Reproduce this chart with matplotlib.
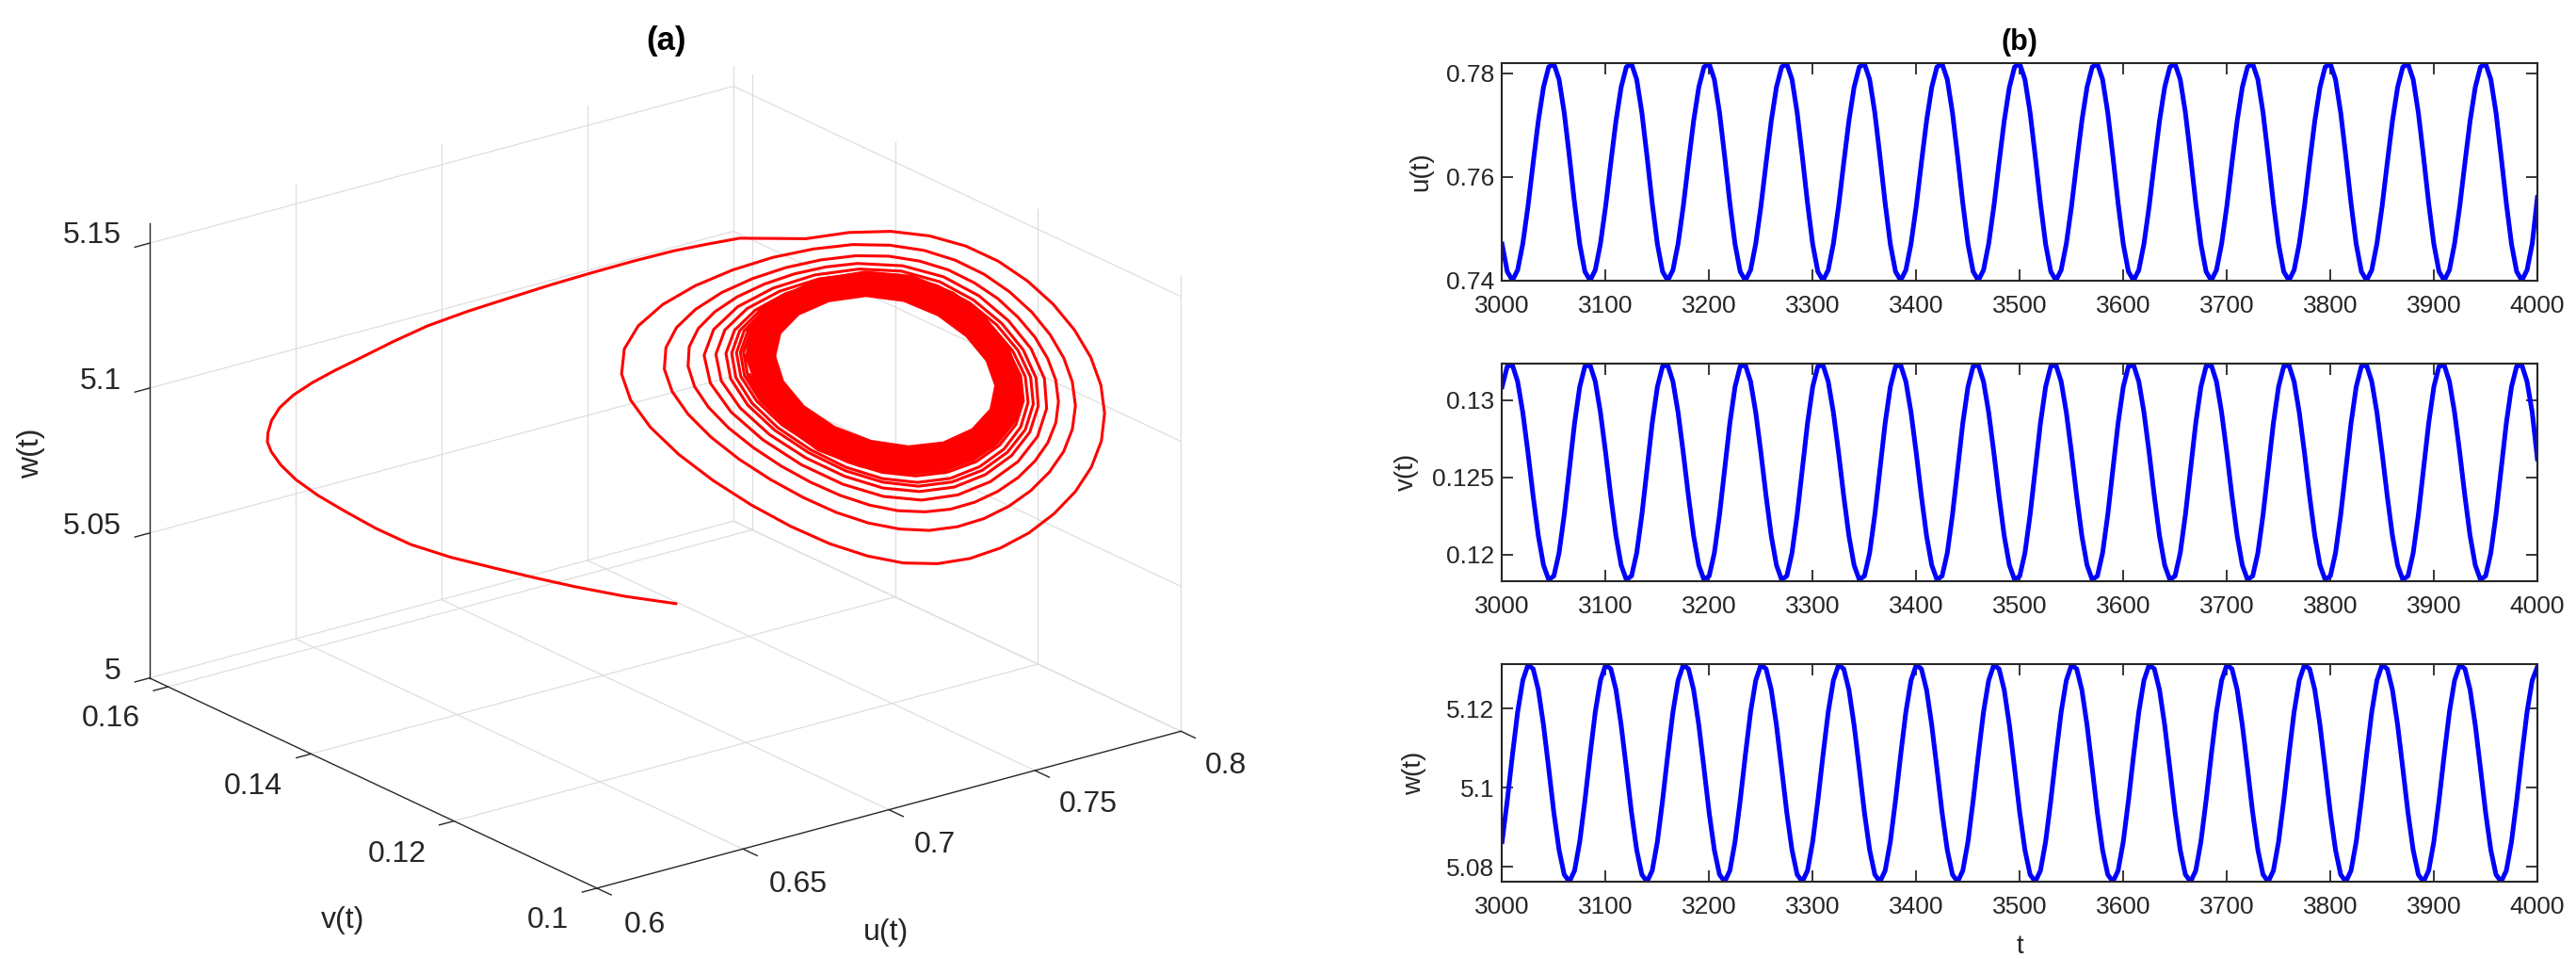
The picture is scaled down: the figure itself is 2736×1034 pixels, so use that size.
import matplotlib
matplotlib.use('Agg')
import matplotlib.pyplot as plt

W, H = 2736, 1034
plt.rcParams['font.family'] = ['Liberation Sans', 'DejaVu Sans']
DK = '#262626'
GR = '#dedede'

# Panel (a). u and w are read off the picture along the spiral. A single projection
# cannot show depth, so v is an estimate: it follows u in anti-phase, as in panel (b).
# The dense red band is read as four thick loops rather than as individual turns.
traj_u = [
.7216,.7120,.7027,.7027,.6954,.6873,.6793,.6718,.6652,.6594,.6543,.6502,.6473,.6455,.6448,.6449,.6456,.6471,.6497,.6533,.6575,.6625,.6683,.6749,.6824,.6903,.6981,.7058,.7137,.7213,
.7276,.7336,.7460,.7542,.7620,.7693,.7761,.7822,.7877,.7925,.7965,.7996,.8015,.8022,.8016,.7997,.7967,.7927,.7879,.7826,.7769,.7708,.7643,.7576,.7505,.7432,.7358,.7286,.7221,.7168,
.7131,.7114,.7119,.7145,.7191,.7252,.7323,.7398,.7474,.7548,.7618,.7682,.7741,.7795,.7843,.7885,.7919,.7945,.7961,.7967,.7961,.7945,.7918,.7883,.7842,.7795,.7745,.7692,.7637,.7578,
.7518,.7456,.7394,.7335,.7282,.7239,.7209,.7194,.7197,.7217,.7253,.7302,.7360,.7423,.7489,.7554,.7616,.7674,.7728,.7777,.7821,.7859,.7891,.7915,.7930,.7935,.7930,.7915,.7891,.7859,
.7821,.7778,.7732,.7684,.7633,.7580,.7525,.7469,.7414,.7362,.7315,.7277,.7251,.7239,.7241,.7258,.7289,.7331,.7382,.7439,.7498,.7557,.7642,.7719,.7786,.7841,.7884,.7909,.7913,.7896,
.7859,.7807,.7746,.7678,.7606,.7530,.7452,.7380,.7320,.7281,.7269,.7287,.7332,.7399,.7477,.7560,.7640,.7712,.7775,.7828,.7869,.7893,.7897,.7881,.7847,.7798,.7739,.7674,.7605,.7533,
.7460,.7392,.7337,.7301,.7291,.7308,.7350,.7411,.7485,.7562,.7638,.7707,.7768,.7819,.7859,.7883,.7888,.7873,.7839,.7792,.7735,.7672,.7605,.7535,.7466,.7402,.7351,.7319,.7310,.7326,
.7365,.7422,.7491,.7564,.7636,.7702,.7761,.7810,.7849,.7873,.7878,.7864,.7833,.7787,.7732,.7670,.7605,.7536,.7469,.7408,.7359,.7329,.7321,.7336,.7373,.7428,.7494,.7565,.7635,.7699,
.7756,.7804,.7841,.7864,.7869,.7855,.7824,.7780,.7726,.7667,.7604,.7539,.7474,.7415,.7368,.7338,.7330,.7344,.7380,.7433,.7497,.7566,.7634,.7697,.7753,.7800,.7836,.7859,.7864,.7850,
.7820,.7776,.7724,.7666,.7604,.7540,.7477,.7419,.7374,.7345,.7337,.7351,.7386,.7437,.7499,.7567,.7633,.7695,.7750,.7796,.7832,.7854,.7859,.7846,.7816,.7773,.7722,.7665,.7604,.7541,
.7479,.7423,.7378,.7351,.7343,.7357,.7390,.7440,.7501,.7567,.7633,.7693,.7747,.7793,.7828,.7850,.7856,.7843,.7813,.7771,.7720,.7664,.7604,.7542,.7480,.7425,.7382,.7355]
traj_v = [
.13864,.14186,.14497,.14497,.14743,.15016,.15281,.15534,.15755,.15949,.16121,.16261,.16357,.16416,.16441,.16437,.16415,.16364,.16276,.16157,.16014,.15846,.15651,.15431,.15178,
.14912,.14653,.14393,.14127,.13874,.13660,.13459,.13042,.12769,.12507,.12261,.12034,.11828,.11643,.11481,.11347,.11245,.11181,.11158,.11178,.11241,.11343,.11477,.11636,.11815,
.12008,.12212,.12428,.12655,.12892,.13138,.13387,.13628,.13846,.14025,.14149,.14206,.14189,.14100,.13946,.13741,.13504,.13251,.12996,.12748,.12514,.12297,.12099,.11919,.11757,
.11618,.11502,.11415,.11360,.11341,.11360,.11416,.11505,.11622,.11762,.11918,.12086,.12264,.12451,.12646,.12849,.13057,.13264,.13463,.13640,.13786,.13887,.13935,.13925,.13858,
.13738,.13575,.13381,.13168,.12948,.12729,.12520,.12324,.12143,.11979,.11832,.11704,.11597,.11517,.11466,.11448,.11464,.11515,.11596,.11703,.11831,.11974,.12129,.12292,.12463,
.12641,.12826,.13013,.13198,.13374,.13530,.13657,.13745,.13787,.13779,.13722,.13619,.13476,.13305,.13115,.12916,.12717,.12432,.12174,.11950,.11763,.11622,.11538,.11523,.11581,
.11704,.11877,.12083,.12310,.12554,.12810,.13069,.13313,.13515,.13646,.13685,.13625,.13473,.13250,.12985,.12708,.12441,.12198,.11985,.11807,.11672,.11591,.11575,.11629,.11745,
.11910,.12106,.12324,.12556,.12799,.13044,.13271,.13457,.13576,.13610,.13554,.13413,.13207,.12961,.12700,.12447,.12215,.12010,.11838,.11705,.11625,.11608,.11658,.11770,.11930,
.12121,.12332,.12557,.12792,.13025,.13239,.13410,.13518,.13547,.13493,.13362,.13171,.12940,.12694,.12453,.12231,.12034,.11867,.11738,.11659,.11640,.11686,.11793,.11946,.12132,
.12338,.12558,.12787,.13013,.13219,.13383,.13485,.13512,.13460,.13335,.13152,.12929,.12691,.12456,.12240,.12049,.11888,.11763,.11687,.11670,.11716,.11821,.11970,.12149,.12348,
.12559,.12779,.12997,.13195,.13354,.13453,.13481,.13432,.13313,.13135,.12920,.12688,.12459,.12248,.12061,.11903,.11780,.11705,.11688,.11733,.11836,.11982,.12158,.12352,.12560,
.12775,.12988,.13181,.13334,.13429,.13455,.13408,.13293,.13121,.12911,.12685,.12462,.12255,.12071,.11915,.11795,.11721,.11703,.11748,.11848,.11992,.12165,.12356,.12561,.12772,
.12981,.13169,.13318,.13410,.13435,.13389,.13277,.13110,.12905,.12683,.12464,.12260,.12079,.11925,.11807,.11733,.11715,.11759,.11858,.11999,.12170,.12359,.12561,.12770,.12975,
.13160,.13306,.13396]
traj_w = [
5.0205,5.0219,5.0241,5.0241,5.0262,5.0288,5.0315,5.0350,5.0398,5.0450,5.0499,5.0548,5.0596,5.0640,
5.0672,5.0704,5.0747,5.0793,5.0840,5.0887,5.0934,5.0985,5.1045,5.1108,5.1167,5.1223,5.1277,5.1328,5.1378,5.1422,5.1453,5.1480,5.1493,5.1524,5.1537,5.1530,5.1503,5.1458,5.1396,5.1322,5.1238,5.1147,5.1053,5.0957,
5.0861,5.0768,5.0680,5.0599,5.0527,5.0469,5.0426,5.0401,5.0396,5.0412,5.0446,5.0497,5.0562,5.0638,5.0721,5.0808,5.0897,5.0985,5.1072,5.1155,5.1234,5.1306,5.1369,5.1421,5.1459,5.1483,5.1489,5.1479,5.1452,5.1410,
5.1355,5.1290,5.1217,5.1139,5.1058,5.0976,5.0895,5.0816,5.0742,5.0674,5.0615,5.0567,5.0533,5.0514,5.0512,5.0526,5.0555,5.0599,5.0654,5.0717,5.0787,5.0861,5.0936,5.1012,5.1086,5.1158,5.1225,5.1288,5.1343,5.1389,
5.1423,5.1445,5.1451,5.1441,5.1417,5.1378,5.1329,5.1269,5.1204,5.1133,5.1061,5.0987,5.0914,5.0843,5.0777,5.0716,5.0664,5.0622,5.0592,5.0577,5.0575,5.0588,5.0615,5.0654,5.0703,5.0760,5.0823,5.0890,5.0958,5.1027,
5.1094,5.1159,5.1220,5.1277,5.1327,5.1369,5.1400,5.1419,5.1421,5.1392,5.1334,5.1255,5.1163,5.1063,5.0961,5.0862,5.0771,5.0696,5.0643,5.0617,5.0621,5.0654,5.0712,5.0789,5.0878,5.0973,5.1068,5.1159,5.1243,5.1315,
5.1370,5.1400,5.1402,5.1374,5.1319,5.1245,5.1158,5.1064,5.0968,5.0875,5.0790,5.0719,5.0669,5.0646,5.0650,5.0682,5.0737,5.0809,5.0894,5.0984,5.1074,5.1160,5.1239,5.1306,5.1357,5.1385,5.1387,5.1360,5.1308,5.1238,
5.1155,5.1065,5.0973,5.0883,5.0801,5.0733,5.0686,5.0664,5.0670,5.0701,5.0755,5.0825,5.0906,5.0993,5.1079,5.1161,5.1235,5.1299,5.1346,5.1372,5.1373,5.1347,5.1298,5.1231,5.1152,5.1066,5.0977,5.0891,5.0811,5.0745,
5.0698,5.0677,5.0682,5.0713,5.0766,5.0834,5.0914,5.0998,5.1081,5.1161,5.1233,5.1295,5.1341,5.1366,5.1366,5.1340,5.1291,5.1226,5.1149,5.1067,5.0982,5.0899,5.0823,5.0761,5.0719,5.0699,5.0704,5.0732,5.0781,5.0846,
5.0922,5.1003,5.1084,5.1161,5.1232,5.1291,5.1336,5.1360,5.1359,5.1334,5.1286,5.1222,5.1148,5.1067,5.0984,5.0904,5.0830,5.0769,5.0728,5.0709,5.0714,5.0742,5.0790,5.0853,5.0927,5.1006,5.1086,5.1161,5.1230,5.1288,
5.1331,5.1355,5.1354,5.1329,5.1282,5.1219,5.1146,5.1068,5.0987,5.0907,5.0835,5.0776,5.0736,5.0718,5.0723,5.0750,5.0797,5.0859,5.0931,5.1009,5.1087,5.1161,5.1229,5.1286,5.1328,5.1350,5.1349,5.1324,5.1278,5.1217,
5.1145,5.1068,5.0988,5.0911,5.0840,5.0782,5.0742,5.0725,5.0730,5.0756,5.0802,5.0863,5.0934,5.1011]
band_u = [
.7396,.7407,.7443,.7502,.7573,.7646,.7712,.7766,.7805,.7823,.7813,.7777,.7721,.7653,.7581,.7511,.7452,.7412,.7396,
.7381,.7391,.7431,.7495,.7572,.7651,.7720,.7777,.7817,.7835,.7826,.7789,.7728,.7653,.7575,.7502,.7442,.7400,.7381,
.7368,.7377,.7419,.7488,.7572,.7655,.7728,.7786,.7828,.7847,.7839,.7800,.7734,.7653,.7569,.7494,.7432,.7388,.7368,
.7354,.7363,.7408,.7482,.7571,.7658,.7735,.7795,.7838,.7858,.7850,.7810,.7740,.7653,.7564,.7486,.7423,.7377,.7354]
band_v = [
.13258,.13223,.13100,.12903,.12663,.12418,.12197,.12015,.11884,.11826,.11858,.11980,.12168,.12395,.12637,.12871,.13070,.13205,.13258,
.13308,.13275,.13142,.12927,.12666,.12404,.12170,.11980,.11846,.11784,.11814,.11940,.12145,.12395,.12658,.12902,.13105,.13246,.13308,
.13354,.13322,.13181,.12948,.12669,.12390,.12145,.11948,.11810,.11745,.11772,.11903,.12123,.12396,.12677,.12930,.13137,.13285,.13354,
.13398,.13368,.13217,.12969,.12671,.12377,.12121,.11918,.11775,.11707,.11733,.11867,.12102,.12396,.12695,.12957,.13168,.13321,.13398]
band_w = [
5.1080,5.1166,5.1239,5.1293,5.1320,5.1311,5.1268,5.1201,5.1119,5.1030,5.0941,5.0864,5.0810,5.0788,5.0799,5.0840,5.0906,5.0990,5.1080,
5.1077,5.1170,5.1250,5.1311,5.1342,5.1335,5.1290,5.1218,5.1129,5.1032,5.0935,5.0850,5.0791,5.0765,5.0774,5.0817,5.0889,5.0980,5.1077,
5.1075,5.1174,5.1260,5.1326,5.1362,5.1356,5.1310,5.1234,5.1138,5.1034,5.0929,5.0838,5.0773,5.0744,5.0751,5.0796,5.0873,5.0970,5.1075,
5.1072,5.1177,5.1270,5.1342,5.1381,5.1377,5.1329,5.1248,5.1147,5.1035,5.0923,5.0826,5.0756,5.0723,5.0730,5.0776,5.0857,5.0962,5.1072]

# Panel (b): values every 5 time units
time = list(range(3000, 4005, 5))
series_u = [
.7470,.7417,.7400,.7420,.7471,.7543,.7627,.7708,.7773,.7812,.7818,.7788,.7724,.7639,.7549,
.7470,.7417,.7400,.7420,.7471,.7543,.7627,.7708,.7773,.7812,.7818,.7788,.7724,.7639,.7549,
.7470,.7417,.7400,.7420,.7471,.7543,.7627,.7708,.7773,.7812,.7818,.7788,.7724,.7639,.7549,
.7470,.7417,.7400,.7420,.7471,.7543,.7627,.7708,.7773,.7812,.7818,.7788,.7724,.7639,.7549,
.7470,.7417,.7400,.7420,.7471,.7543,.7627,.7708,.7773,.7812,.7818,.7788,.7724,.7639,.7549,
.7470,.7417,.7400,.7420,.7471,.7543,.7627,.7708,.7773,.7812,.7818,.7788,.7724,.7639,.7549,
.7470,.7417,.7400,.7420,.7471,.7543,.7627,.7708,.7773,.7812,.7818,.7788,.7724,.7639,.7549,
.7470,.7417,.7400,.7420,.7471,.7543,.7627,.7708,.7773,.7812,.7818,.7788,.7724,.7639,.7549,
.7470,.7417,.7400,.7420,.7471,.7543,.7627,.7708,.7773,.7812,.7818,.7788,.7724,.7639,.7549,
.7470,.7417,.7400,.7420,.7471,.7543,.7627,.7708,.7773,.7812,.7818,.7788,.7724,.7639,.7549,
.7470,.7417,.7400,.7420,.7471,.7543,.7627,.7708,.7773,.7812,.7818,.7788,.7724,.7639,.7549,
.7470,.7417,.7400,.7420,.7471,.7543,.7627,.7708,.7773,.7812,.7818,.7788,.7724,.7639,.7549,
.7470,.7417,.7400,.7420,.7471,.7543,.7627,.7708,.7773,.7812,.7818,.7788,.7724,.7639,.7549,
.7470,.7417,.7400,.7420,.7471,.7560]
series_v = [
.13088,.13221,.13228,.13122,.12921,.12660,.12378,.12121,.11931,.11837,.11861,.12010,.12257,.12556,.12852,
.13088,.13221,.13228,.13122,.12921,.12660,.12378,.12121,.11931,.11837,.11861,.12010,.12257,.12556,.12852,
.13088,.13221,.13228,.13122,.12921,.12660,.12378,.12121,.11931,.11837,.11861,.12010,.12257,.12556,.12852,
.13088,.13221,.13228,.13122,.12921,.12660,.12378,.12121,.11931,.11837,.11861,.12010,.12257,.12556,.12852,
.13088,.13221,.13228,.13122,.12921,.12660,.12378,.12121,.11931,.11837,.11861,.12010,.12257,.12556,.12852,
.13088,.13221,.13228,.13122,.12921,.12660,.12378,.12121,.11931,.11837,.11861,.12010,.12257,.12556,.12852,
.13088,.13221,.13228,.13122,.12921,.12660,.12378,.12121,.11931,.11837,.11861,.12010,.12257,.12556,.12852,
.13088,.13221,.13228,.13122,.12921,.12660,.12378,.12121,.11931,.11837,.11861,.12010,.12257,.12556,.12852,
.13088,.13221,.13228,.13122,.12921,.12660,.12378,.12121,.11931,.11837,.11861,.12010,.12257,.12556,.12852,
.13088,.13221,.13228,.13122,.12921,.12660,.12378,.12121,.11931,.11837,.11861,.12010,.12257,.12556,.12852,
.13088,.13221,.13228,.13122,.12921,.12660,.12378,.12121,.11931,.11837,.11861,.12010,.12257,.12556,.12852,
.13088,.13221,.13228,.13122,.12921,.12660,.12378,.12121,.11931,.11837,.11861,.12010,.12257,.12556,.12852,
.13088,.13221,.13228,.13122,.12921,.12660,.12378,.12121,.11931,.11837,.11861,.12010,.12257,.12556,.12852,
.13088,.13221,.13228,.13122,.12921,.12620]
series_w = [
5.0864,5.0968,5.1083,5.1191,5.1271,5.1310,5.1300,5.1247,5.1158,5.1049,5.0937,5.0843,5.0781,5.0763,5.0791,
5.0864,5.0968,5.1083,5.1191,5.1271,5.1310,5.1300,5.1247,5.1158,5.1049,5.0937,5.0843,5.0781,5.0763,5.0791,
5.0864,5.0968,5.1083,5.1191,5.1271,5.1310,5.1300,5.1247,5.1158,5.1049,5.0937,5.0843,5.0781,5.0763,5.0791,
5.0864,5.0968,5.1083,5.1191,5.1271,5.1310,5.1300,5.1247,5.1158,5.1049,5.0937,5.0843,5.0781,5.0763,5.0791,
5.0864,5.0968,5.1083,5.1191,5.1271,5.1310,5.1300,5.1247,5.1158,5.1049,5.0937,5.0843,5.0781,5.0763,5.0791,
5.0864,5.0968,5.1083,5.1191,5.1271,5.1310,5.1300,5.1247,5.1158,5.1049,5.0937,5.0843,5.0781,5.0763,5.0791,
5.0864,5.0968,5.1083,5.1191,5.1271,5.1310,5.1300,5.1247,5.1158,5.1049,5.0937,5.0843,5.0781,5.0763,5.0791,
5.0864,5.0968,5.1083,5.1191,5.1271,5.1310,5.1300,5.1247,5.1158,5.1049,5.0937,5.0843,5.0781,5.0763,5.0791,
5.0864,5.0968,5.1083,5.1191,5.1271,5.1310,5.1300,5.1247,5.1158,5.1049,5.0937,5.0843,5.0781,5.0763,5.0791,
5.0864,5.0968,5.1083,5.1191,5.1271,5.1310,5.1300,5.1247,5.1158,5.1049,5.0937,5.0843,5.0781,5.0763,5.0791,
5.0864,5.0968,5.1083,5.1191,5.1271,5.1310,5.1300,5.1247,5.1158,5.1049,5.0937,5.0843,5.0781,5.0763,5.0791,
5.0864,5.0968,5.1083,5.1191,5.1271,5.1310,5.1300,5.1247,5.1158,5.1049,5.0937,5.0843,5.0781,5.0763,5.0791,
5.0864,5.0968,5.1083,5.1191,5.1271,5.1310,5.1300,5.1247,5.1158,5.1049,5.0937,5.0843,5.0781,5.0763,5.0791,
5.0864,5.0968,5.1083,5.1191,5.1271,5.1305]

u_ticks = [.6, .65, .7, .75, .8]
v_ticks = [.1, .12, .14, .16]
w_ticks = [5, 5.05, 5.1, 5.15]
v_max = .1626
w_max = 5.157

fig = plt.figure(figsize=(W / 100, H / 100), dpi=100)
S = 1186
ax = fig.add_axes([97.5 / W, -81.5 / H, S / W, S / H], projection='3d')
ax.set_proj_type('ortho')
ax.view_init(elev=20.8, azim=-127.1)
ax.set_box_aspect((778, 788, 517))
ax.set_xlim(.6, .8, view_margin=0)
ax.set_ylim(.1, v_max, view_margin=0)
ax.set_zlim(5, w_max, view_margin=0)
ax.set_axis_off()
ax.patch.set_alpha(0)

g = dict(color=GR, lw=.9)
for u in u_ticks[1:]:
    ax.plot([u, u], [.1, v_max], [5, 5], **g)
    ax.plot([u, u], [v_max, v_max], [5, w_max], **g)
for v in v_ticks[1:]:
    ax.plot([.6, .8], [v, v], [5, 5], **g)
    ax.plot([.8, .8], [v, v], [5, w_max], **g)
ax.plot([.6, .8], [v_max, v_max], [5, 5], **g)
ax.plot([.8, .8], [.1, v_max], [5, 5], **g)
ax.plot([.8, .8], [.1, .1], [5, w_max], **g)
for z in w_ticks[1:]:
    ax.plot([.6, .8], [v_max, v_max], [z, z], **g)
    ax.plot([.8, .8], [v_max, .1], [z, z], **g)
a = dict(color=DK, lw=1.0)
ax.plot([.6, .8], [.1, .1], [5, 5], **a)
ax.plot([.6, .6], [.1, v_max], [5, 5], **a)
ax.plot([.6, .6], [v_max, v_max], [5, w_max], **a)
for u in u_ticks:
    ax.plot([u, u], [.1, .098], [5, 5], **a)
for v in v_ticks:
    ax.plot([.6, .595], [v, v], [5, 5], **a)
for z in w_ticks:
    ax.plot([.6, .595], [v_max, v_max], [z, z], **a)
ax.plot(band_u, band_v, band_w, color='#ff0000', lw=6.5)
ax.plot(traj_u, traj_v, traj_w, color='#ff0000', lw=2.2)


def T(x, y, s, **k):
    fig.text(x / W, 1 - y / H, s, **k)


c = dict(ha='center', va='center', color=DK, fontsize=23)
for (x, y, s) in [(129, 250, '5.15'), (129, 405, '5.1'), (129, 559, '5.05'), (129, 713, '5')]:
    T(x, y, s, ha='right', va='center', color=DK, fontsize=23)
for (x, y, s) in [(135, 1145, '0.16'), (308, 1253, '0.14'), (483, 1360, '0.12'), (667, 1466, '0.1'),
                  (785, 1473, '0.6'), (972, 1408, '0.65'), (1138, 1345, '0.7'), (1325, 1281, '0.75'), (1492, 1219, '0.8')]:
    T(x / 1.146, y / 1.5, s, **c)
T(417 / 1.146, 1466 / 1.5, 'v(t)', **c)
T(1078 / 1.146, 1485 / 1.5, 'u(t)', **c)
T(33, 481, 'w(t)', rotation=90, **c)
T(707, 43, '(a)', ha='center', va='center', color='k', fontsize=25, fontweight='bold')
T(2145, 45, '(b)', ha='center', va='center', color='k', fontsize=22, fontweight='bold')

rows = [(66.7, 297.7, series_u, (.74, .782), [.74, .76, .78], ['0.74', '0.76', '0.78'], 'u(t)', 1509),
        (385.7, 616.7, series_v, (.11829, .1324), [.12, .125, .13], ['0.12', '0.125', '0.13'], 'v(t)', 1494),
        (705, 936, series_w, (5.0763, 5.1312), [5.08, 5.1, 5.12], ['5.08', '5.1', '5.12'], 'w(t)', 1502)]
for (top, bot, ser, yl, yt, ytl, lab, lx) in rows:
    b = fig.add_axes([1595.4 / W, 1 - bot / H, (2695 - 1595.4) / W, (bot - top) / H])
    b.plot(time, ser, color='#0000ff', lw=3.6)
    b.set_xlim(3000, 4000)
    b.set_ylim(*yl)
    b.set_xticks(range(3000, 4100, 100))
    b.set_yticks(yt)
    b.set_yticklabels(ytl)
    b.tick_params(direction='in', length=8.6, width=1.3, top=True, right=True, colors=DK, labelsize=19)
    b.tick_params(axis='x', pad=11)
    b.tick_params(axis='y', pad=6)
    for sp in b.spines.values():
        sp.set_color(DK)
        sp.set_linewidth(1.5)
    T(lx, (top + bot) / 2, lab, rotation=90, ha='center', va='center', color=DK, fontsize=20)
T(2145, 1005, 't', ha='center', va='center', color=DK, fontsize=20)
fig.savefig('out.png', dpi=100)
